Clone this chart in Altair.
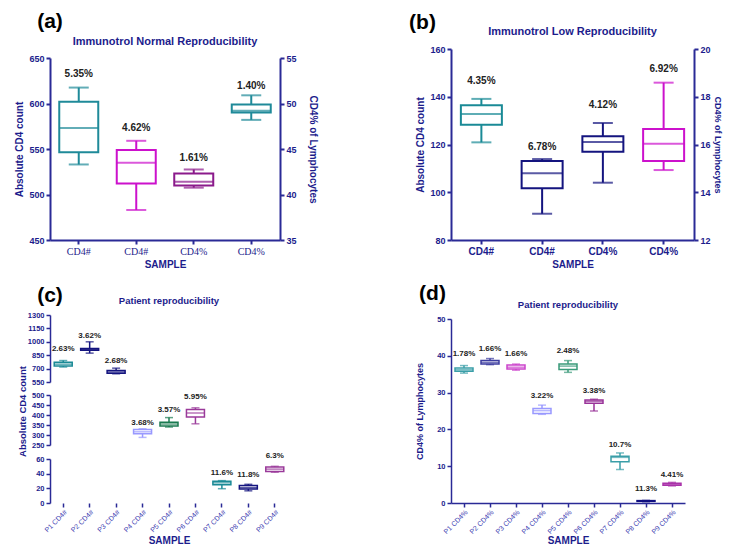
import json
import altair as alt
import pandas as pd

FONT = "Liberation Sans"
NAVY = "#1c1c8c"
AXIS = "#2a2a96"
TXT = "#222222"

# ---------------- data ----------------
panel_letters = ["(a)", "(b)", "(c)", "(d)"]
panel_titles = ["Immunotrol Normal Reproducibility", "Immunotrol Low Reproducibility",
                "Patient reproducibility", "Patient reproducibility"]

# (a) Immunotrol Normal: first two on left axis (count), last two on right axis (%)
a_labels = ["CD4#", "CD4#", "CD4%", "CD4%"]
a_low = [533, 483, 40.75, 48.2]
a_q1 = [546.5, 512, 41.0, 49.0]
a_med = [573, 535, 41.4, 49.2]
a_q3 = [602, 549, 42.3, 49.9]
a_high = [617.5, 559, 42.75, 50.9]
a_cv = ["5.35%", "4.62%", "1.61%", "1.40%"]
a_cv_y = [632, 573, 44.0, 51.9]
a_colors = ["#1f8a99", "#cc11cc", "#8b1a8b", "#1f8a99"]

# (b) Immunotrol Low
b_labels = ["CD4#", "CD4#", "CD4%", "CD4%"]
b_low = [120.9, 91, 14.4, 14.93]
b_q1 = [128.3, 101.7, 15.7, 15.31]
b_med = [132.8, 108, 16.1, 16.03]
b_q3 = [136.4, 113.1, 16.35, 16.65]
b_high = [139.1, 113.9, 16.9, 18.59]
b_cv = ["4.35%", "6.78%", "4.12%", "6.92%"]
b_cv_y = [146.5, 118.8, 17.66, 19.16]
b_colors = ["#1a8a96", "#14147f", "#14147f", "#cc11cc"]

# (c) Patient absolute counts (broken axis: 3 segments of 3 patients)
c_labels = ["P1 CD4#", "P2 CD4#", "P3 CD4#", "P4 CD4#", "P5 CD4#", "P6 CD4#",
            "P7 CD4#", "P8 CD4#", "P9 CD4#"]
c_low = [718, 873, 642, 288, 340, 356, 19.5, 16.6, 42]
c_q1 = [728, 905, 648, 306, 345, 390, 25, 19, 43]
c_med = [750, 915, 662, 316, 355, 410, 27.5, 21, 46.2]
c_q3 = [770, 925, 678, 328, 364, 428, 29.6, 24, 49]
c_high = [790, 1000, 705, 331, 387, 436, 30.5, 25.5, 50]
c_cv = ["2.63%", "3.62%", "2.68%", "3.68%", "3.57%", "5.95%", "11.6%", "11.8%", "6.3%"]
c_cv_y = [921, 1060, 786, 362, 425, 488, 41.5, 38, 63.6]
c_colors = ["#1a8a96", "#14147f", "#14147f", "#9999ff", "#1a7a50", "#9a3a9a",
            "#1a8a96", "#14147f", "#9a3a9a"]
c_segment = [0, 0, 0, 1, 1, 1, 2, 2, 2]

# (d) Patient CD4%
d_labels = ["P1 CD4%", "P2 CD4%", "P3 CD4%", "P4 CD4%", "P5 CD4%", "P6 CD4%",
            "P7 CD4%", "P8 CD4%", "P9 CD4%"]
d_low = [35.3, 37.6, 36.1, 24.1, 35.5, 25.0, 9.1, 0.35, 4.65]
d_q1 = [35.8, 37.75, 36.4, 24.3, 36.3, 27.1, 11.2, 0.45, 4.8]
d_med = [36.2, 38.2, 36.9, 25.1, 37.2, 27.65, 12.4, 0.55, 5.1]
d_q3 = [36.7, 38.7, 37.5, 25.7, 37.8, 28.0, 12.7, 0.65, 5.4]
d_high = [37.35, 39.25, 37.75, 26.6, 38.7, 28.2, 13.6, 0.7, 5.6]
d_cv = ["1.78%", "1.66%", "1.66%", "3.22%", "2.48%", "3.38%", "10.7%", "11.3%", "4.41%"]
d_cv_y = [40.5, 41.9, 40.6, 29.2, 41.3, 30.5, 15.8, 3.7, 7.5]
d_colors = ["#3a9ea8", "#3c3ca0", "#cc44cc", "#9999ff", "#3a9a7a", "#993399",
            "#3a9ea8", "#101080", "#aa33aa"]


def frame(low, q1, med, q3, high, cv, cv_y, colors):
    return pd.DataFrame({"idx": list(range(len(low))), "low": low, "q1": q1, "med": med,
                         "q3": q3, "high": high, "cv": cv, "cv_y": cv_y, "color": colors})


def x_enc(labels, **axis_kw):
    n = len(labels)
    return alt.X("idx:O",
                 scale=alt.Scale(domain=list(range(n)), paddingInner=0, paddingOuter=0),
                 axis=alt.Axis(labelExpr=json.dumps(labels) + "[datum.value]", **axis_kw))


def boxes(df, x, yscale, yaxis, box_w, cap_w, sw, fs):
    base = alt.Chart(df)

    def Y(f):
        return alt.Y(f + ":Q", scale=yscale, axis=yaxis)

    col = alt.Color("color:N", scale=None)
    whisker = base.mark_rule(strokeWidth=sw).encode(x=x, y=Y("low"), y2="high", color=col)
    box = base.mark_bar(fill="white", strokeWidth=sw, width=box_w).encode(
        x=x, y=Y("q1"), y2="q3", stroke=alt.Stroke("color:N", scale=None))
    med = base.mark_tick(orient="horizontal", size=box_w, thickness=sw).encode(
        x=x, y=Y("med"), color=col)
    cap_lo = base.mark_tick(orient="horizontal", size=cap_w, thickness=sw).encode(
        x=x, y=Y("low"), color=col)
    cap_hi = base.mark_tick(orient="horizontal", size=cap_w, thickness=sw).encode(
        x=x, y=Y("high"), color=col)
    txt = base.mark_text(fontSize=fs, fontWeight="bold", font=FONT, color=TXT).encode(
        x=x, y=Y("cv_y"), text="cv:N")
    return alt.layer(whisker, box, med, cap_lo, cap_hi, txt)


def annotations(i, lx, ly, tx, ty, tfs):
    d = pd.DataFrame({"letter": [panel_letters[i]], "title": [panel_titles[i]]})
    let = alt.Chart(d).mark_text(fontSize=21, fontWeight="bold", font=FONT, color="black").encode(
        text="letter:N", x=alt.value(lx), y=alt.value(ly))
    tit = alt.Chart(d).mark_text(fontSize=tfs, fontWeight="bold", font=FONT, color=NAVY).encode(
        text="title:N", x=alt.value(tx), y=alt.value(ty))
    return alt.layer(let, tit)


def y_axis(orient, values, title, lfs=9, tfs=10, dw=2, **kw):
    return alt.Axis(orient=orient, values=values, title=title, grid=False, format="d",
                    domainColor=AXIS, domainWidth=dw, tickColor=AXIS, tickWidth=dw, tickSize=4,
                    labelColor=NAVY, labelFont=FONT, labelFontWeight="bold", labelFontSize=lfs,
                    labelPadding=2, titleFont=FONT, titleFontWeight="bold", titleFontSize=tfs,
                    titleColor=NAVY, **kw)


def x_axis_kw(lfs, font, weight, angle, dw, domain=True, lcolor=NAVY, **kw):
    return dict(title="SAMPLE", labelAngle=angle, labelColor=lcolor, labelFont=font,
                labelFontWeight=weight, labelFontSize=lfs, domain=domain, domainColor=AXIS,
                domainWidth=dw, tickColor=AXIS, tickWidth=dw, tickSize=4, titleFont=FONT,
                titleFontWeight="bold", titleFontSize=10, titleColor=NAVY, **kw)


# ---------------- panel (a) ----------------
A_W, A_H = 230, 191
da = frame(a_low, a_q1, a_med, a_q3, a_high, a_cv, a_cv_y, a_colors)
xa = x_enc(a_labels, **x_axis_kw(10, "Liberation Serif", "normal", 0, 2, titlePadding=3))
a_left = boxes(da[da.idx < 2], xa,
               alt.Scale(domain=[450, 650], range=[A_H, 9], nice=False, zero=False),
               y_axis("left", [450, 500, 550, 600, 650], "Absolute CD4 count"),
               39, 20, 2, 10)
a_right = boxes(da[da.idx >= 2], xa,
                alt.Scale(domain=[35, 55], range=[A_H, 9], nice=False, zero=False),
                y_axis("right", [35, 40, 45, 50, 55], "CD4% of Lymphocytes", titleAngle=90,
                       titlePadding=11),
                39, 20, 2, 10)
chart_a = alt.layer(a_left, a_right, annotations(0, 0, -27, A_W / 2, -7, 11)).resolve_scale(
    y="independent").properties(width=A_W, height=A_H)

# ---------------- panel (b) ----------------
B_W, B_H = 243, 191
db = frame(b_low, b_q1, b_med, b_q3, b_high, b_cv, b_cv_y, b_colors)
xb = x_enc(b_labels, **x_axis_kw(10, FONT, "bold", 0, 2, titlePadding=3))
b_left = boxes(db[db.idx < 2], xb,
               alt.Scale(domain=[80, 160], range=[B_H, 0], nice=False, zero=False),
               y_axis("left", [80, 100, 120, 140, 160], "Absolute CD4 count"),
               41, 20, 2, 10)
b_right = boxes(db[db.idx >= 2], xb,
                alt.Scale(domain=[12, 20], range=[B_H, 0], nice=False, zero=False),
                y_axis("right", [12, 14, 16, 18, 20], "CD4% of Lymphocytes", titleAngle=90,
                       titlePadding=2, tfs=9),
                41, 20, 2, 10)
chart_b = alt.layer(b_left, b_right, annotations(1, -28.5, -26, B_W / 2, -17, 11)).resolve_scale(
    y="independent").properties(width=B_W, height=B_H)

# ---------------- panel (c) broken axis ----------------
C_W, C_H = 238, 188
dc = frame(c_low, c_q1, c_med, c_q3, c_high, c_cv, c_cv_y, c_colors)
dc["seg"] = c_segment
xc = x_enc(c_labels, **x_axis_kw(7, FONT, "normal", -45, 1.5, domain=False, lcolor="#3a3ab0",
                                 labelPadding=1, titleY=37, titleBaseline="middle"))
seg_domains = [[550, 1300], [250, 500], [0, 60]]
seg_ranges = [[67, 0], [130, 80], [C_H, 144]]
seg_ticks = [[550, 700, 850, 1000, 1150, 1300], [250, 300, 350, 400, 450, 500], [0, 20, 40, 60]]
seg_titles = [None, "Absolute CD4 count", None]
c_layers = []
for s in range(3):
    kw = {"titleY": 96} if s == 1 else {}
    c_layers.append(boxes(dc[dc.seg == s], xc,
                          alt.Scale(domain=seg_domains[s], range=seg_ranges[s], nice=False, zero=False),
                          y_axis("left", seg_ticks[s], seg_titles[s], lfs=7.5, tfs=9.5, dw=1.5, **kw),
                          18, 8, 1.5, 8))
chart_c = alt.layer(*c_layers, annotations(2, 0, -19, C_W / 2, -14, 9.5)).resolve_scale(
    y="independent").properties(width=C_W, height=C_H)

# ---------------- panel (d) ----------------
D_W, D_H = 234, 188
dd = frame(d_low, d_q1, d_med, d_q3, d_high, d_cv, d_cv_y, d_colors)
xd = x_enc(d_labels, **x_axis_kw(7, FONT, "normal", -45, 1.5, lcolor="#3a3ab0", labelPadding=1,
                                 titleY=37, titleBaseline="middle"))
d_box = boxes(dd, xd, alt.Scale(domain=[0, 50], range=[D_H, 4], nice=False, zero=False),
              y_axis("left", [0, 10, 20, 30, 40, 50], "CD4% of Lymphocytes", lfs=7.5, tfs=9,
                     dw=1.5, titlePadding=12),
              18, 8, 1.5, 8)
chart_d = alt.layer(d_box, annotations(3, -18.5, -21, D_W / 2, -10, 9.5)).properties(
    width=D_W, height=D_H)

chart = alt.concat(chart_a, chart_b, chart_c, chart_d, columns=2,
                   spacing={"row": 75, "column": 158}, bounds="flush", align="all").configure_view(
    stroke=None).properties(
    autosize=alt.AutoSizeParams(type="none"),
    padding={"left": 42, "top": 41, "right": 673, "bottom": 495})

chart.save("out.html", embed_options={"renderer": "svg", "actions": False})
